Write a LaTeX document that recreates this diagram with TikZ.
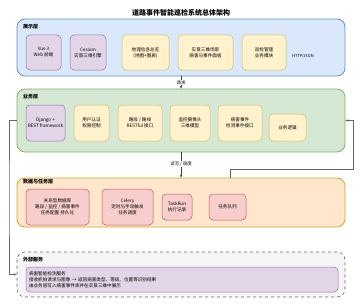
\documentclass[tikz,border=0pt]{standalone}
\usepackage{fontspec}
\setmainfont{Noto Sans CJK SC}
\usetikzlibrary{arrows.meta,calc}
\definecolor{bluef}{HTML}{DAE8FC}\definecolor{blued}{HTML}{6C8EBF}
\definecolor{greenf}{HTML}{D5E8D4}\definecolor{greend}{HTML}{82B366}
\definecolor{orangef}{HTML}{FFE6CC}\definecolor{oranged}{HTML}{D6A520}
\definecolor{purplef}{HTML}{E1D5E7}\definecolor{purpled}{HTML}{9673A6}
\definecolor{yellowf}{HTML}{FFF2CC}\definecolor{yellowd}{HTML}{D6B656}
\definecolor{redf}{HTML}{F8CECC}\definecolor{redd}{HTML}{B85450}
\definecolor{grayf}{HTML}{F5F5F5}\definecolor{grayd}{HTML}{666666}
\tikzset{
  layer/.style={draw, line width=0.8pt, rounded corners=8pt, inner sep=0pt},
  box/.style={draw, line width=0.5pt, rounded corners=4pt, inner sep=1pt, align=center,
    font=\fontsize{4.6}{6}\selectfont},
  pbox/.style={box, fill=purplef, draw=purpled},
  ybox/.style={box, fill=yellowf, draw=yellowd},
  rbox/.style={box, fill=redf, draw=redd},
  lname/.style={anchor=west, font=\bfseries\fontsize{5}{6}\selectfont, inner sep=0pt},
  arr/.style={draw=black!75, line width=0.5pt, -{Stealth[length=3pt,width=2.4pt]}},
  conn/.style={draw=black!60, line width=0.6pt, -{Stealth[length=3pt,width=2.4pt]}},
  elabel/.style={fill=white, inner sep=0.6pt, font=\fontsize{4.4}{5}\selectfont},
}
\begin{document}
\begin{tikzpicture}[x=1pt,y=-1pt]
\useasboundingbox (0,0) rectangle (361,305);
\node[font=\bfseries\fontsize{7}{8}\selectfont] (title) at (181,13) {道路事件智能巡检系统总体架构};
% layers
\node[layer, fill=bluef, draw=blued, minimum width=328pt, minimum height=57pt] (L1) at (181,47.5) {};
\node[layer, fill=greenf, draw=greend, minimum width=328pt, minimum height=63pt] (L2) at (181,120.5) {};
\node[layer, fill=orangef, draw=oranged, minimum width=328pt, minimum height=49pt] (L3) at (181,202.5) {};
\node[layer, fill=grayf, draw=grayd, dashed, line width=0.6pt, minimum width=328pt, minimum height=45pt] (L4) at (181,274.5) {};
\node[lname] (n1) at (23,27) {展示层};
\node[lname] (n2) at (23,97) {业务层};
\node[lname] (n3) at (23,182) {数据与任务层};
\node[lname] (n4) at (23,260) {外部服务};
% layer 1
\node[pbox, minimum width=35pt, minimum height=35pt] (vue) at (43.5,52.5) {Vue 3\\Web 前端};
\node[pbox, minimum width=36pt, minimum height=35pt] (ces) at (88,52.5) {Cesium\\实景三维引擎};
\node[ybox, minimum width=47pt, minimum height=35pt] (geo) at (145.5,52.5) {地理信息总览\\(地图+图表)};
\node[ybox, minimum width=55pt, minimum height=35pt] (scene) at (205.5,52.5) {实景三维场景\\病害与事件面板};
\node[ybox, minimum width=44pt, minimum height=35pt] (mgmt) at (264,52.5) {巡检管理\\业务模块};
\node[font=\fontsize{4}{5}\selectfont, anchor=west, inner sep=0pt] (http) at (292,56) {HTTP/JSON};
% layer 2
\node[pbox, minimum width=39pt, minimum height=36pt] (dj) at (45.5,123) {Django +\\REST framework};
\node[ybox, minimum width=35pt, minimum height=36pt] (auth) at (91.5,123) {用户认证\\权限控制};
\node[ybox, minimum width=44pt, minimum height=36pt] (route) at (140,123) {路段 / 路线\\RESTful 接口};
\node[ybox, minimum width=40pt, minimum height=36pt] (cam) at (190,123) {监控摄像头\\三维模型};
\node[ybox, minimum width=44pt, minimum height=36pt] (evt) at (240,123) {病害事件\\检测事件接口};
\node[ybox, minimum width=37pt, minimum height=27pt] (logic) at (287.5,127.5) {业务逻辑};
% layer 3
\node[rbox, minimum width=63pt, minimum height=36pt] (db) at (57.5,207) {关系型数据库\\路段 / 监控 / 病害事件\\任务配置 持久化};
\node[rbox, minimum width=51pt, minimum height=36pt] (cel) at (127.5,207) {Celery\\定时与手动触发\\任务调度};
\node[rbox, minimum width=30pt, minimum height=26pt] (tr) at (177,207) {TaskRun\\执行记录};
\node[rbox, minimum width=37pt, minimum height=26pt] (q) at (227.5,207) {任务队列};
% layer 4
\node[pbox, align=left, text width=306pt, minimum width=312pt, minimum height=25pt, inner sep=3pt] (ext) at (182,279.5)
  {病害智能检测服务\\接收抓拍请求与图像 → 返回病害类型、等级、位置等识别结果\\由业务层写入病害事件库并在实景三维中展示};
% connectors
\draw[arr] (L1.south) -- node[elabel] {请求} (L2.north);
\draw[arr] (L2.south) -- node[elabel, pos=0.45] {读写 / 调度} (L3.north);
\coordinate (lc) at (9,200);
\draw[conn] (L2.west) -| (lc) |- (L4.west);
\coordinate (rc) at (353,169);
\draw[conn] ([xshift=49pt]L3.north) |- (rc) |- (L2.east);
\end{tikzpicture}
\end{document}
